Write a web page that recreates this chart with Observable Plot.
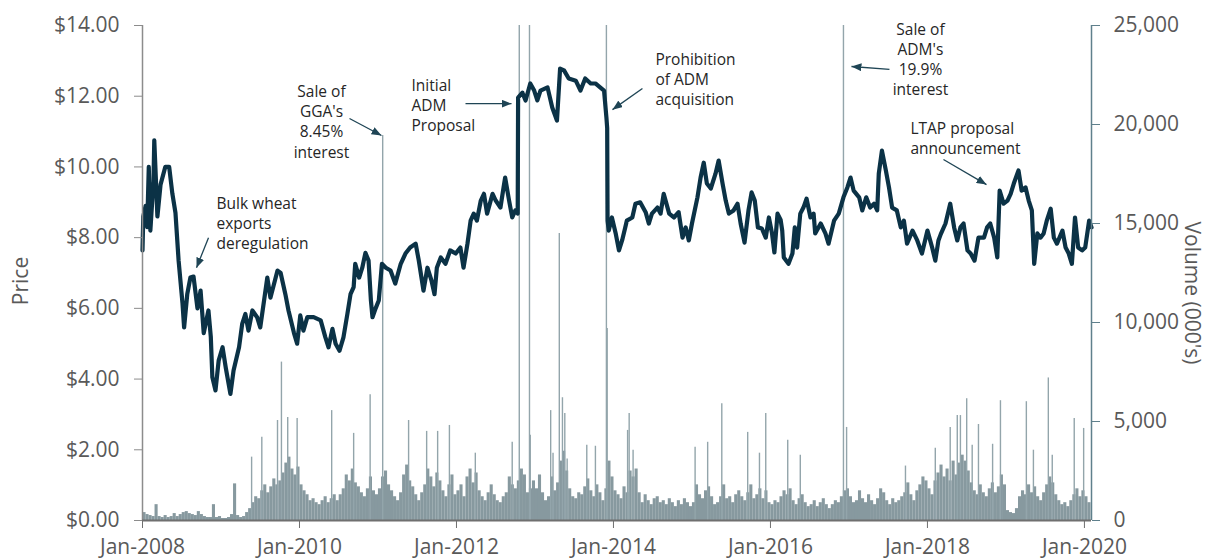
<!DOCTYPE html>
<html><head><meta charset="utf-8">
<script src="https://cdn.jsdelivr.net/npm/d3@7"></script>
<script src="https://cdn.jsdelivr.net/npm/@observablehq/plot@0.6"></script>
<style>
body{margin:0;background:#fff;}
#chart{width:1211px;height:560px;}
svg{font-family:"Open Sans",Lato,sans-serif;}
</style></head><body><div id="chart"></div>
<script>
// ---- Price (decimal year, $) ----
const priceDates = [2008.00,2008.01,2008.04,2008.06,2008.08,2008.10,2008.14,2008.15,2008.19,2008.23,2008.29,2008.34,2008.38,2008.42,2008.46,2008.51,2008.53,2008.57,2008.61,2008.65,2008.70,2008.74,2008.78,2008.84,2008.87,2008.89,2008.93,2008.97,
2009.02,2009.06,2009.12,2009.16,2009.23,2009.27,2009.31,2009.35,2009.40,2009.46,2009.50,2009.59,2009.63,2009.72,2009.76,2009.82,2009.86,2009.93,2009.97,
2010.01,2010.05,2010.10,2010.18,2010.27,2010.33,2010.37,2010.42,2010.46,2010.51,2010.56,2010.61,2010.65,2010.69,2010.71,2010.76,2010.80,2010.84,2010.88,2010.91,2010.93,2010.97,
2011.01,2011.05,2011.10,2011.16,2011.22,2011.29,2011.35,2011.41,2011.48,2011.52,2011.58,2011.63,2011.68,2011.72,2011.75,2011.80,2011.86,2011.92,2011.99,
2012.05,2012.09,2012.14,2012.18,2012.22,2012.26,2012.31,2012.35,2012.39,2012.46,2012.50,2012.56,2012.60,2012.62,2012.67,2012.71,2012.75,2012.78,2012.785,2012.84,2012.88,2012.94,2012.99,
2013.03,2013.07,2013.16,2013.22,2013.28,2013.32,2013.37,2013.43,2013.52,2013.58,2013.64,2013.71,2013.77,2013.83,2013.88,2013.91,2013.92,2013.925,2013.94,2013.98,
2014.03,2014.07,2014.11,2014.15,2014.17,2014.24,2014.28,2014.34,2014.41,2014.45,2014.49,2014.56,2014.60,2014.64,2014.71,2014.77,2014.83,2014.88,2014.92,2014.96,
2015.00,2015.07,2015.11,2015.15,2015.19,2015.24,2015.30,2015.34,2015.39,2015.43,2015.47,2015.53,2015.58,2015.62,2015.67,2015.72,2015.76,2015.80,2015.84,2015.89,2015.94,2015.98,
2016.02,2016.05,2016.09,2016.13,2016.15,2016.17,2016.23,2016.28,2016.31,2016.34,2016.38,2016.42,2016.46,2016.51,2016.55,2016.57,2016.64,2016.70,2016.74,2016.81,2016.87,2016.93,2016.98,
2017.02,2017.06,2017.13,2017.17,2017.22,2017.27,2017.32,2017.36,2017.38,2017.42,2017.47,2017.51,2017.55,2017.61,2017.66,2017.70,2017.74,2017.81,2017.87,2017.93,
2018.00,2018.06,2018.10,2018.14,2018.17,2018.23,2018.29,2018.34,2018.38,2018.42,2018.46,2018.51,2018.55,2018.60,2018.65,2018.72,2018.76,2018.80,2018.85,2018.89,2018.92,2018.97,
2019.02,2019.06,2019.10,2019.16,2019.20,2019.25,2019.29,2019.33,2019.36,2019.40,2019.44,2019.48,2019.52,2019.57,2019.61,2019.65,2019.72,2019.76,2019.80,2019.84,2019.88,2019.92,2019.97,
2020.01,2020.06,2020.09];
const priceValues = [7.64,8.6,8.9,8.3,10.0,8.2,9.6,10.75,8.6,9.5,10.0,10.0,9.25,8.7,7.35,6.13,5.46,6.4,6.87,6.9,6.0,6.5,5.3,5.94,5.2,4.05,3.68,4.52,
4.9,4.33,3.58,4.24,4.9,5.56,5.84,5.37,5.94,5.75,5.46,6.87,6.3,7.07,7.0,6.4,5.94,5.3,5.0,
5.8,5.37,5.75,5.75,5.66,5.18,4.9,5.42,5.0,4.8,5.18,5.84,6.4,6.6,7.26,6.87,7.15,7.57,7.35,6.22,5.75,6.0,
6.22,7.26,7.15,7.07,6.7,7.26,7.55,7.72,7.83,7.35,6.5,7.15,6.8,6.4,7.15,7.44,7.26,7.64,7.55,
7.72,7.15,7.83,8.48,8.68,8.48,9.05,9.24,8.68,9.24,9.05,8.85,9.42,9.7,9.05,8.57,8.77,8.68,11.96,12.1,11.88,12.36,12.16,
11.88,12.16,12.25,11.68,11.31,12.78,12.73,12.5,12.44,12.16,12.5,12.36,12.36,12.25,12.16,11.4,11.1,8.48,8.2,8.57,
8.1,7.64,7.92,8.29,8.48,8.57,8.96,9.0,8.72,8.4,8.68,8.85,8.68,9.24,8.68,8.57,8.72,8.0,8.29,7.92,
8.4,9.14,9.7,10.12,9.53,9.39,9.81,10.18,9.53,9.05,8.68,8.77,8.96,8.4,7.86,8.77,9.28,9.05,8.29,8.26,8.0,8.57,
8.12,7.58,8.68,8.5,8.2,7.44,7.26,7.55,8.29,7.72,8.68,8.85,9.1,8.57,8.68,8.12,8.4,8.12,7.83,8.48,8.68,9.14,9.42,
9.7,9.33,9.14,8.77,9.14,8.85,8.96,8.77,9.81,10.46,9.9,9.42,8.85,8.77,8.29,8.48,7.83,8.2,7.92,7.55,
8.2,7.72,7.35,7.92,8.1,8.4,8.96,8.29,7.92,8.29,8.4,7.64,7.55,7.35,8.0,8.0,8.29,8.4,8.0,7.44,9.33,8.96,
9.05,9.24,9.53,9.9,9.33,9.42,9.05,8.77,7.26,8.12,8.0,8.12,8.48,8.82,8.0,7.83,8.2,7.72,7.55,7.26,8.57,7.72,7.64,
7.72,8.48,8.29];

// ---- Volume (000's), about two-weekly values per year ----
const vol2008 = [400,300,250,200,800,200,150,250,150,200,350,200,300,400,450,350,300,250,450,300,200,150,150,800,150,200];
const vol2009 = [100,100,150,300,1850,250,150,200,400,600,900,1200,1100,1500,1800,1400,1700,2100,1800,2000,2400,2900,3200,2600,2300,2700];
const vol2010 = [1800,1500,1300,1000,1100,900,800,1000,1200,900,1100,1300,1000,1300,1600,2300,2000,2600,1900,1700,1400,1200,1600,2200,1500,1300];
const vol2011 = [1600,2200,2500,1800,1500,1200,1000,1400,2300,2800,2000,1700,1300,1000,1400,1800,2600,2200,1700,2400,2000,1500,1200,1800,2300,1300];
const vol2012 = [1500,1800,1200,2200,2600,1900,2400,1500,1200,1000,1400,1800,1300,1000,900,1200,1400,2200,1800,1600,2000,2600,2300,1400,1600,2000];
const vol2013 = [1600,2300,1400,1000,1200,2200,1500,1900,3000,3500,2500,1600,1200,1100,1400,1300,1700,2100,1500,1200,1800,1400,1000,1600,3000,2200];
const vol2014 = [1500,1300,1100,1700,1400,2500,2200,2600,1400,900,1300,1000,800,1100,1200,900,1000,800,1100,900,700,1000,800,1100,900,700];
const vol2015 = [900,1800,1300,1100,1500,1700,1200,800,900,1200,1800,1100,1200,900,1300,1500,1200,1000,1400,1800,1100,1300,1600,1100,1500,900];
const vol2016 = [800,1000,900,1200,1500,1300,1600,1000,800,1100,1300,900,700,800,1000,700,900,1100,800,600,800,1000,900,1200,1500,1600];
const vol2017 = [1200,900,1000,1500,1100,900,1300,1000,800,1100,1600,1400,1000,800,1100,900,1000,1200,1400,1900,1300,1000,1500,1800,2200,2000];
const vol2018 = [1600,1300,2000,2400,2800,2200,2600,2000,3000,2300,2900,3300,3000,2500,1900,1500,1300,1800,1400,1200,1600,1900,1400,1700,2300,1800];
const vol2019 = [500,400,350,600,1200,1500,1300,1800,1400,1700,1200,1000,1400,1800,2200,1900,1300,1000,800,900,700,1000,1300,1600,1200,1500];
const vol2020 = [1200,900];
const volYears = [[2008,vol2008],[2009,vol2009],[2010,vol2010],[2011,vol2011],[2012,vol2012],[2013,vol2013],[2014,vol2014],[2015,vol2015],[2016,vol2016],[2017,vol2017],[2018,vol2018],[2019,vol2019],[2020,vol2020]];

// single-day volume spikes (decimal year, 000's)
const spikeDates = [2009.39,2009.52,2009.72,2009.77,2009.85,2009.97,2010.41,2010.69,2010.90,2011.06,2011.39,2011.62,2011.76,2011.91,2012.24,2012.71,2012.80,2012.93,2012.94,2013.20,2013.23,2013.31,2013.35,2013.38,2013.41,2013.66,2013.77,2013.91,2013.92,2014.18,2014.20,2014.25,2015.04,2015.20,2015.38,2015.71,2015.86,2015.94,2016.22,2016.38,2016.93,2016.97,2017.72,2018.10,2018.29,2018.38,2018.42,2018.50,2018.57,2018.65,2018.83,2018.93,2019.26,2019.35,2019.54,2019.59,2019.87,2019.99];
const spikeValues = [3200,4200,5050,8000,5200,5150,5550,4400,6350,19450,5050,4500,4500,4800,3400,3950,25000,25000,4300,5550,3400,14500,6200,5400,3100,3800,3750,25000,9700,4550,5400,3550,3700,3950,5900,4450,3400,5400,4050,3300,25000,4700,2750,3650,4700,5300,5300,6150,3800,4850,3850,6050,6000,3550,7200,3300,5150,4650];

// ---- Axes ----
const priceTicks = [0,2,4,6,8,10,12,14];
const volTicks = [0,5000,10000,15000,20000,25000];
const xTickYears = [2008,2010,2012,2014,2016,2018,2020];
const xDomain = [2008, 2020.09];

// ---- Annotations (data coordinates) ----
const annLeft = [
  {t: 2008.943, p: 8.43, text: "Bulk wheat\nexports\nderegulation"},
  {t: 2011.427, p: 11.77, text: "Initial\nADM\nProposal"},
  {t: 2014.535, p: 12.50, text: "Prohibition\nof ADM\nacquisition"},
  {t: 2017.783, p: 10.82, text: "LTAP proposal\nannouncement"}
];
const annCenter = [
  {t: 2010.28, p: 11.30, text: "Sale of\nGGA's\n8.45%\ninterest"},
  {t: 2017.911, p: 13.07, text: "Sale of\nADM's\n19.9%\ninterest"}
];
const arrows = [
  {t1: 2008.841, p1: 8.00, t2: 2008.688, p2: 7.15},
  {t1: 2010.637, p1: 11.37, t2: 2011.045, p2: 10.89},
  {t1: 2012.115, p1: 11.79, t2: 2012.701, p2: 11.79},
  {t1: 2014.369, p1: 12.22, t2: 2013.987, p2: 11.62},
  {t1: 2017.516, p1: 12.76, t2: 2017.032, p2: 12.84},
  {t1: 2018.204, p1: 10.21, t2: 2018.752, p2: 9.50}
];

const priceMax = 14, volMax = 25000, k = priceMax / volMax;
const price = priceDates.map((t, i) => ({t, p: priceValues[i]}));
const volume = volYears.flatMap(([yr, arr]) => arr.map((v, i) => ({t: yr + (i + 0.5) / 26, v})));
const spikes = spikeDates.map((t, i) => ({t, v: spikeValues[i]}));

const tickFont = 21;
const chart = Plot.plot({
  width: 1211, height: 560,
  marginLeft: 142, marginRight: 120, marginTop: 25, marginBottom: 40,
  x: {type: "linear", domain: xDomain},
  y: {domain: [0, priceMax]},
  style: {fontFamily: "'Open Sans', Lato, sans-serif", fontSize: "20px", color: "#595959", background: "white", overflow: "visible"},
  marks: [
    Plot.ruleX(volume, {x: "t", y1: 0, y2: d => d.v * k, stroke: "#87999f", strokeWidth: 3.1}),
    Plot.ruleX(spikes, {x: "t", y1: 0, y2: d => d.v * k, stroke: "#93a5ab", strokeWidth: 1.4}),
    Plot.line(price, {x: "t", y: "p", stroke: "#0b3246", strokeWidth: 4.2, strokeLinejoin: "round", strokeLinecap: "round"}),
    Plot.ruleX([xDomain[0]], {stroke: "#8c8c8c", strokeWidth: 1.5}),
    Plot.ruleX([xDomain[1]], {stroke: "#5f808c", strokeWidth: 1.5}),
    Plot.ruleY([0], {stroke: "#6f6f6f", strokeWidth: 2}),
    Plot.axisY(priceTicks, {anchor: "left", tickFormat: d => "$" + d.toFixed(2), tickSize: 8, tickPadding: 15, stroke: "#8c8c8c", fontSize: tickFont, label: null}),
    Plot.axisY(volTicks.map(v => v * k), {anchor: "right", tickFormat: d => d3.format(",")(Math.round(d / k)), tickSize: 8, tickPadding: 14, stroke: "#5f808c", fontSize: tickFont, label: null}),
    Plot.axisX(xTickYears, {tickFormat: d => "Jan-" + d, tickSize: 8, tickPadding: 11, stroke: "#6f6f6f", fontSize: tickFont, label: null}),
    Plot.text(["Price"], {frameAnchor: "left", textAnchor: "middle", dx: -121, dy: 8, rotate: -90, fontSize: 21, fill: "#595959"}),
    Plot.text(["Volume (000's)"], {frameAnchor: "right", textAnchor: "middle", dx: 100, dy: 20, rotate: 90, fontSize: 21, fill: "#595959"}),
    Plot.text(annLeft, {x: "t", y: "p", text: "text", textAnchor: "start", lineAnchor: "middle", lineHeight: 1.3, fontSize: 15.5, fill: "#262626"}),
    Plot.text(annCenter, {x: "t", y: "p", text: "text", textAnchor: "middle", lineAnchor: "middle", lineHeight: 1.3, fontSize: 15.5, fill: "#262626"}),
    Plot.link(arrows, {x1: "t1", y1: "p1", x2: "t2", y2: "p2", stroke: "#1f4555", strokeWidth: 1.3})
  ]
});
const defs = document.createElementNS("http://www.w3.org/2000/svg", "defs");
defs.innerHTML = '<marker id="ah" viewBox="0 0 10 8" refX="10" refY="4" markerWidth="10" markerHeight="8" markerUnits="userSpaceOnUse" orient="auto"><path d="M0,0L10,4L0,8Z" fill="#1f4555"/></marker>';
chart.prepend(defs);
chart.querySelectorAll('g[aria-label="link"] path, g[aria-label="link"] line').forEach(p => p.setAttribute("marker-end", "url(#ah)"));
document.getElementById("chart").append(chart);
</script></body></html>
